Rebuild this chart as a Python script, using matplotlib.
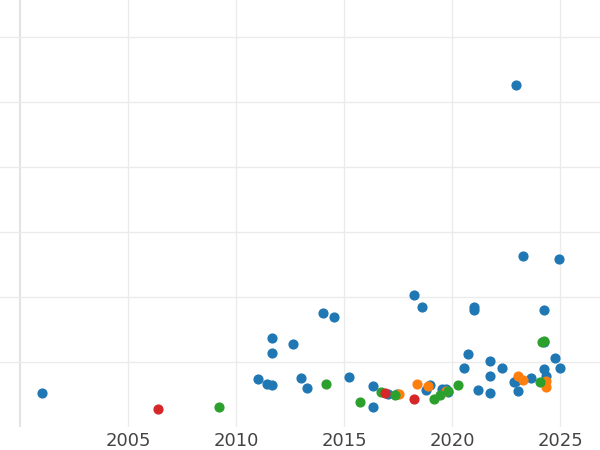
import matplotlib.pyplot as plt

blue_x = [2001.0, 2011.0, 2011.44, 2011.67, 2011.67, 2011.67, 2012.64, 2013.0, 2013.29, 2014.03,
          2014.54, 2015.23, 2016.34, 2016.34, 2017.04, 2017.45, 2018.24, 2018.61, 2018.8, 2018.98,
          2019.54, 2019.72, 2019.81, 2020.56, 2020.74, 2021.02, 2021.02, 2021.2, 2021.76, 2021.76,
          2021.76, 2022.31, 2022.87, 2022.96, 2022.96, 2023.06, 2023.29, 2023.66, 2024.26, 2024.26,
          2024.26, 2024.35, 2024.77, 2024.95, 2025.0]
blue_y = [0.52, 0.74, 0.66, 0.65, 1.37, 1.14, 1.28, 0.75, 0.6, 1.75,
          1.69, 0.77, 0.63, 0.31, 0.51, 0.51, 2.03, 1.85, 0.57, 0.65,
          0.58, 0.58, 0.54, 0.91, 1.12, 1.85, 1.8, 0.57, 1.02, 0.78,
          0.52, 0.91, 0.69, 0.71, 5.26, 0.55, 2.63, 0.75, 1.8, 1.31,
          0.89, 0.78, 1.06, 2.58, 0.91]
orange_x = [2018.38, 2018.89, 2019.72, 2017.55, 2023.06, 2023.29, 2024.35, 2024.35]
orange_y = [0.66, 0.63, 0.55, 0.51, 0.78, 0.72, 0.71, 0.62]
green_x = [2009.21, 2014.17, 2015.74, 2016.71, 2017.36, 2019.17, 2019.44, 2019.81, 2020.28,
           2024.07, 2024.26, 2024.17]
green_y = [0.31, 0.66, 0.38, 0.54, 0.49, 0.43, 0.49, 0.55, 0.65, 0.69, 1.32, 1.31]
red_x = [2006.39, 2016.9, 2018.24]
red_y = [0.28, 0.52, 0.43]

fig = plt.figure(figsize=(6, 4.5), dpi=100)
ax = fig.add_axes([0, 23 / 450, 1, 427 / 450])
ax.scatter(blue_x, blue_y, color='#1f77b4', s=40, zorder=3)
ax.scatter(orange_x, orange_y, color='#ff7f0e', s=40, zorder=3)
ax.scatter(green_x, green_y, color='#2ca02c', s=40, zorder=3)
ax.scatter(red_x, red_y, color='#d62728', s=40, zorder=3)

ax.set_xlim(1999.07, 2026.85)
ax.set_ylim(0, 427 / 65)
ax.set_xticks([2005, 2010, 2015, 2020, 2025])
ax.set_xticks([2000, 2010, 2020], minor=True)
ax.set_yticks([1, 2, 3, 4, 5, 6])
ax.set_yticklabels([])
ax.tick_params(axis='y', length=0)
ax.tick_params(axis='x', length=0, labelsize=13, colors='#444444', which='both')
ax.grid(True, which='major', color='#ebebeb', linewidth=1)
ax.grid(True, which='minor', axis='x', color='#e3e3e3', linewidth=1.5)
for s in ax.spines.values():
    s.set_visible(False)

fig.savefig('out.png')
